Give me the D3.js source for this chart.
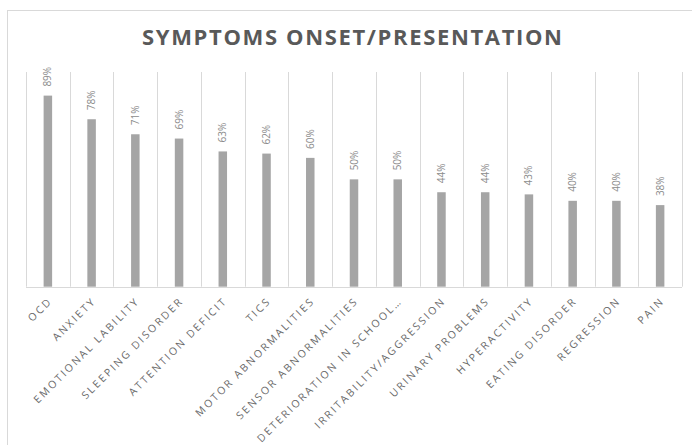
<!DOCTYPE html>
<html><head><meta charset="utf-8">
<script src="https://cdn.jsdelivr.net/npm/d3@7"></script>
<style>body{margin:0;background:#fff}svg{display:block}</style>
</head><body><svg id="c" width="692" height="445"></svg>
<script>
const categories = ["OCD","ANXIETY","EMOTIONAL LABILITY","SLEEPING DISORDER","ATTENTION DEFICIT","TICS","MOTOR ABNORMALITIES","SENSOR ABNORMALITIES","DETERIORATION IN SCHOOL…","IRRITABILITY/AGGRESSION","URINARY PROBLEMS","HYPERACTIVITY","EATING DISORDER","REGRESSION","PAIN"];
const values = [89,78,71,69,63,62,60,50,50,44,44,43,40,40,38];
const title = "SYMPTOMS ONSET/PRESENTATION";

const svg = d3.select("#c");
svg.append("rect").attr("x",7.5).attr("y",10.5).attr("width",700).attr("height",450)
  .attr("fill","#fff").attr("stroke","#d9d9d9");
svg.append("text").attr("x",142).attr("y",45)
  .attr("font-family","Open Sans").attr("font-weight",700).attr("font-size",22)
  .attr("fill","#595959").attr("textLength",420).attr("lengthAdjust","spacing").text(title);

const x = d3.scaleBand().domain(categories).range([26,682]).paddingInner(0).paddingOuter(0);
const y = d3.scaleLinear().domain([0,100]).range([286.7,72]);

const g = svg.append("g");
const bounds = categories.map(c=>x(c)).concat([x.range()[1]]);
g.selectAll("line.grid").data(bounds).join("line")
  .attr("x1",d=>Math.round(d)+0.5).attr("x2",d=>Math.round(d)+0.5)
  .attr("y1",y(100)).attr("y2",y(0)).attr("stroke","#d9d9d9");
g.append("line").attr("x1",x.range()[0]).attr("x2",x.range()[1])
  .attr("y1",Math.round(y(0))+0.5).attr("y2",Math.round(y(0))+0.5).attr("stroke","#d9d9d9");

const bw = 8.5;
g.selectAll("rect.bar").data(values).join("rect")
  .attr("x",(d,i)=>x(categories[i])+x.bandwidth()/2-bw/2)
  .attr("width",bw).attr("y",d=>y(d)).attr("height",d=>y(0)-y(d)).attr("fill","#a5a5a5");

g.selectAll("text.val").data(values).join("text")
  .attr("transform",(d,i)=>`translate(${x(categories[i])+x.bandwidth()/2+3.5},${y(d)-9}) rotate(-90)`)
  .attr("font-family","Open Sans").attr("font-size",10).attr("fill","#8c8c8c")
  .text(d=>d+"%");

g.selectAll("text.cat").data(categories).join("text")
  .attr("transform",c=>`translate(${x(c)+x.bandwidth()/2+5},${y(0)+15}) rotate(-45)`)
  .attr("text-anchor","end").attr("font-family","Open Sans").attr("font-size",10.5)
  .attr("letter-spacing",2.2).attr("fill","#6a6a6a").text(c=>c);
</script></body></html>
